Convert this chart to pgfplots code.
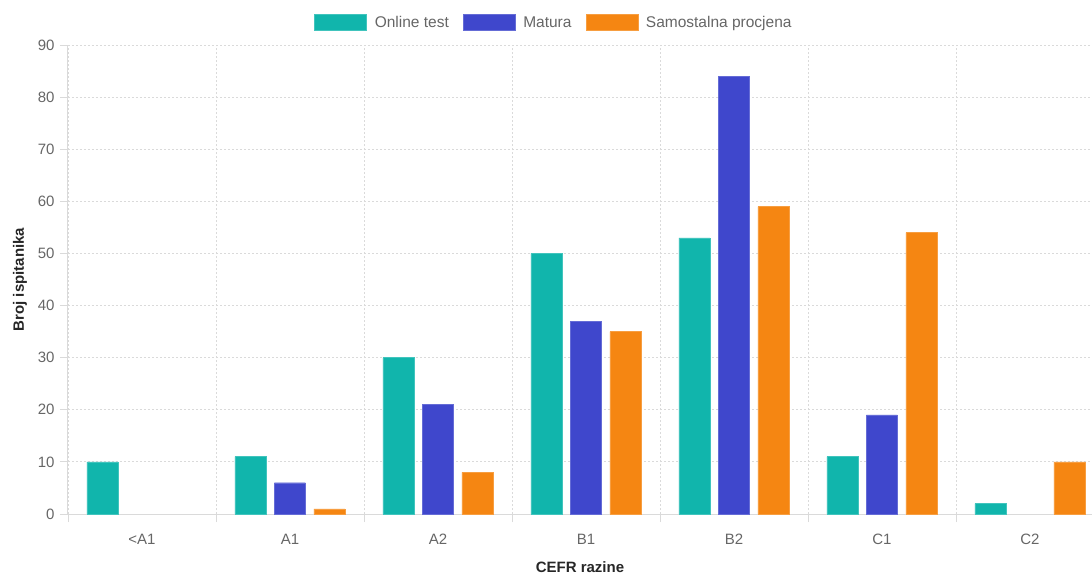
\documentclass[border=0pt]{standalone}
\usepackage{pgfplots}
\pgfplotsset{compat=1.18}
\usepackage{fontspec}
\setmainfont{Liberation Sans}
\definecolor{cteal}{RGB}{17,181,172}
\definecolor{cblue}{RGB}{63,71,204}
\definecolor{corange}{RGB}{245,134,18}
\definecolor{ctext}{RGB}{102,102,102}
\definecolor{cgrid}{RGB}{218,218,218}
\begin{document}
\begin{tikzpicture}
\useasboundingbox (-68pt,-60pt) rectangle (1024pt,514pt);
\begin{axis}[
  at={(0,0)}, anchor=south west,
  scale only axis, width=1024pt, height=469pt,
  xmin=-0.5, xmax=6.4189, ymin=0, ymax=90,
  ybar=8.5pt, bar width=31pt,
  axis lines=left,
  axis line style={-, draw=cgrid, line width=1pt},
  clip=false,
  font=\fontsize{15}{18}\selectfont,
  /pgf/number format/assume math mode=true,
  ticklabel style={text=ctext},
  xtick={-0.5,0.5,...,6.5},
  xticklabels={},
  xmajorgrids, ymajorgrids,
  grid style={dash pattern=on 2pt off 2pt, draw=cgrid, line width=0.8pt},
  extra x ticks={0,1,2,3,4,5,6},
  extra x tick labels={<A1,A1,A2,B1,B2,C1,C2},
  extra x tick style={major tick length=0pt, grid=none, xticklabel style={text height=11pt, text depth=0pt, yshift=-16pt}},
  ytick={0,10,...,90},
  tick align=outside,
  major tick length=8pt,
  tick style={draw=cgrid, line width=0.8pt},
  yticklabel style={xshift=-2pt},
  xlabel={\textbf{CEFR razine}},
  ylabel={\textbf{Broj ispitanika}},
  label style={text=black!85},
  xlabel style={yshift=-2pt},
  ylabel style={yshift=4pt},
  legend columns=-1,
  legend style={at={(0.4746,1)}, anchor=south, yshift=12pt, draw=none, fill=none,
    text=ctext, font=\fontsize{15.5}{18}\selectfont,
    /tikz/every odd column/.append style={column sep=6pt},
    /tikz/every even column/.append style={column sep=12pt}},
  legend image code/.code={\fill[#1] (0pt,-8pt) rectangle (52pt,8pt);},
]
\addplot[fill=cteal, draw=cteal!80!white] coordinates {(0,10) (1,11) (2,30) (3,50) (4,53) (5,11) (6,2)};
\addplot[fill=cblue, draw=cblue!80!white] coordinates {(1,6) (2,21) (3,37) (4,84) (5,19)};
\addplot[fill=corange, draw=corange!80!white] coordinates {(1,1) (2,8) (3,35) (4,59) (5,54) (6,10)};
\legend{Online test, Matura, Samostalna procjena}
\end{axis}
\end{tikzpicture}
\end{document}
